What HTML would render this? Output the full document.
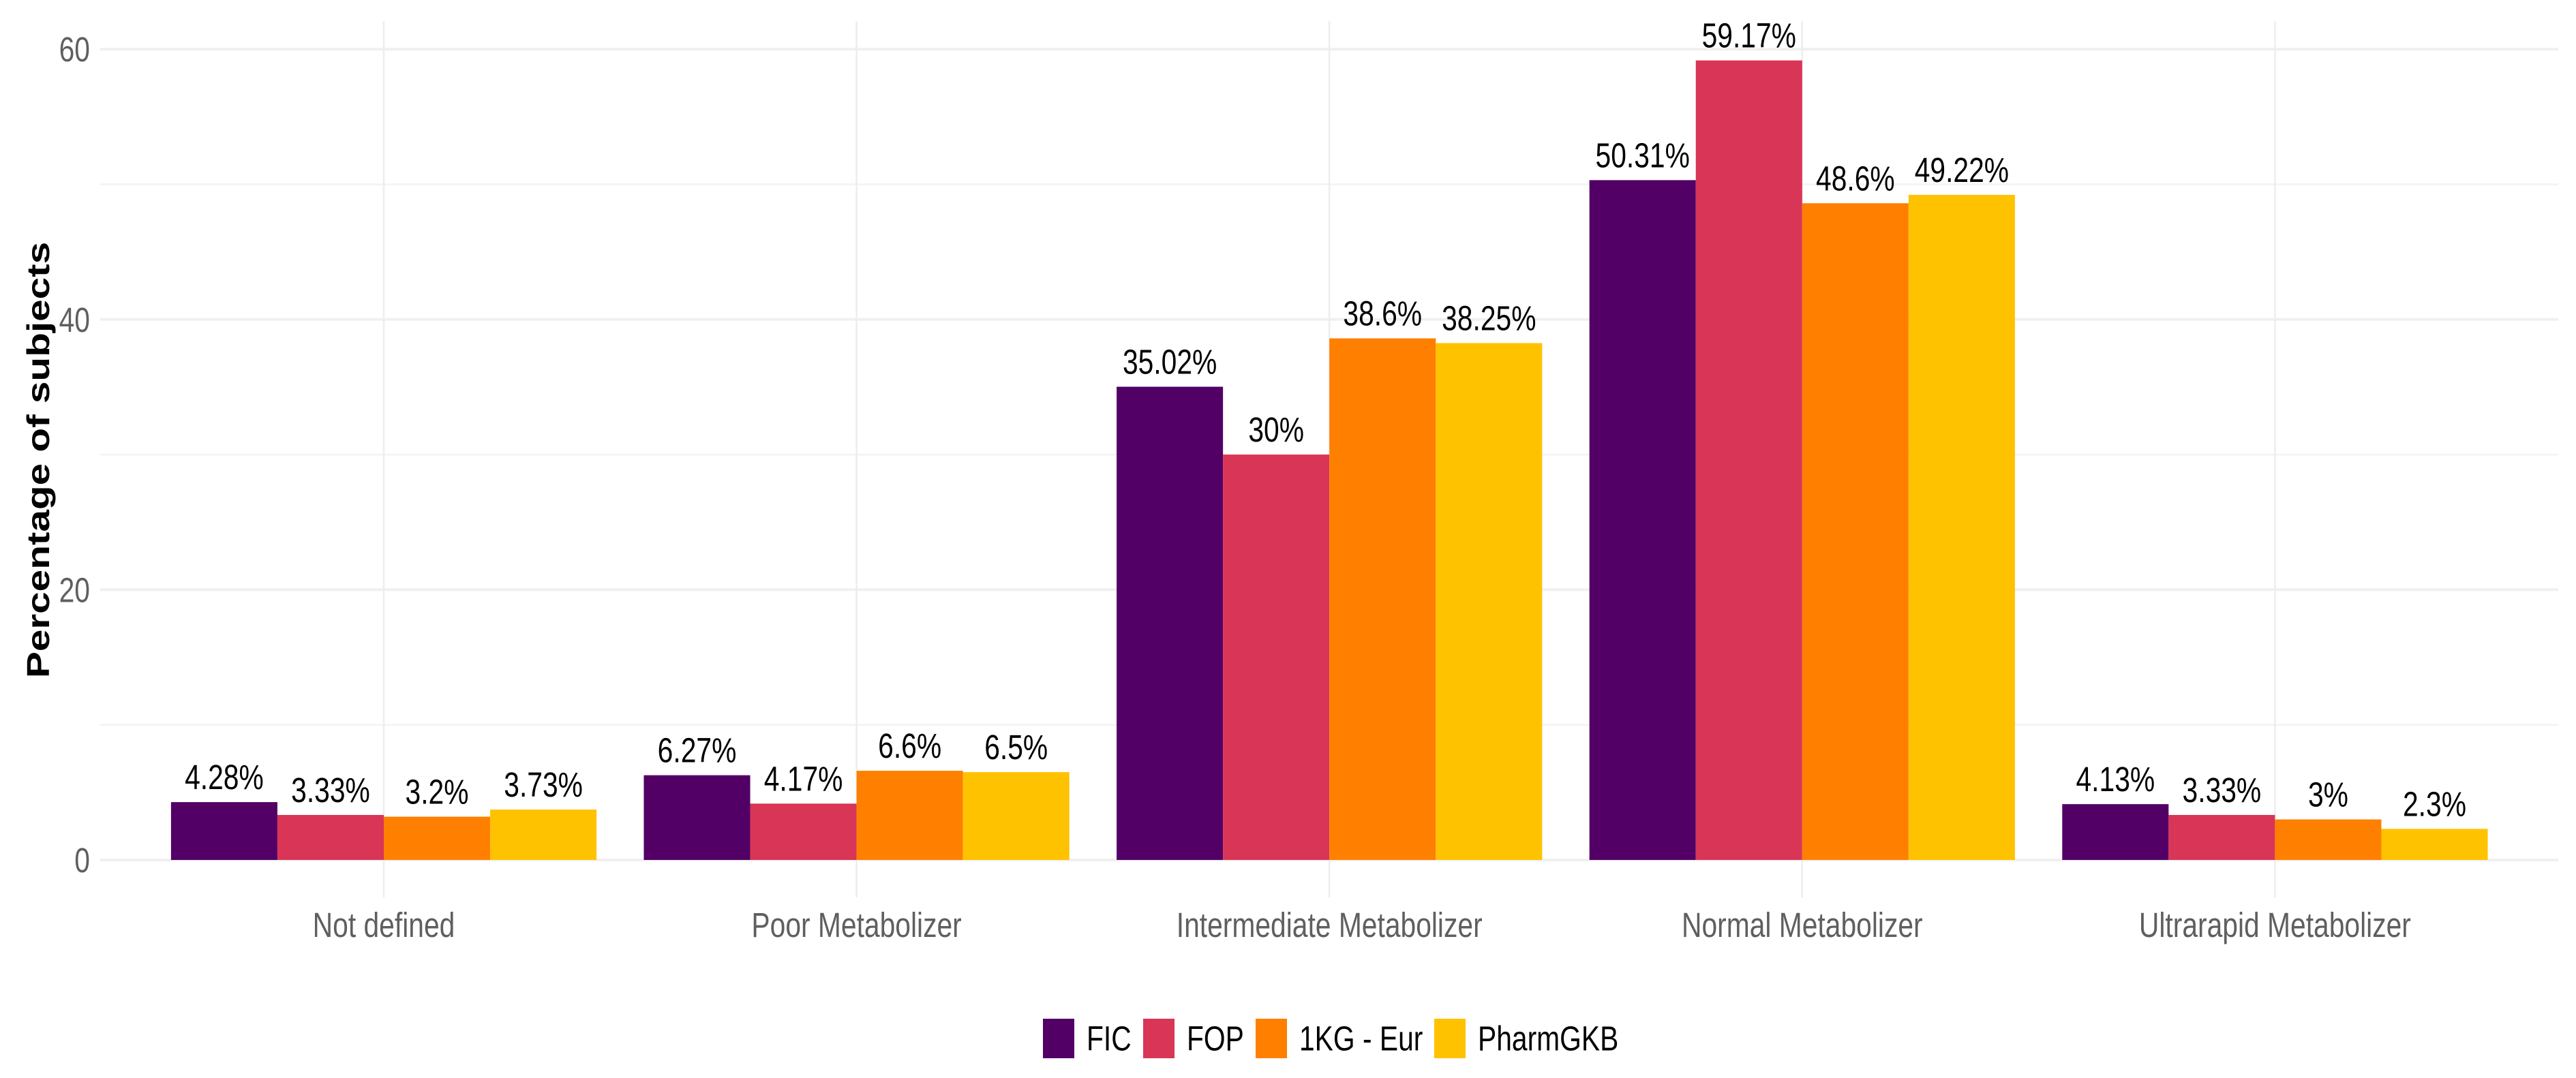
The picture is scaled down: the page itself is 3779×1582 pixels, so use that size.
<!DOCTYPE html>
<html lang="en">
<head>
<meta charset="utf-8">
<title>Metabolizer phenotype percentages</title>
<style>
  html, body { margin: 0; padding: 0; background: #fff; }
  svg { display: block; font-family: "Liberation Sans", Arial, sans-serif; }
</style>
</head>
<body>
<svg id="chart" xmlns="http://www.w3.org/2000/svg" width="3779" height="1582" viewBox="0 0 3779 1582">
  <rect x="0" y="0" width="3779" height="1582" fill="#ffffff"/>
  <g id="grid"></g>
  <g id="bars"></g>
  <g id="values"></g>
  <g id="yticks"></g>
  <g id="xticks"></g>
  <text transform="translate(72,675) scale(0.785,1) rotate(-90)" text-anchor="middle" font-size="58.5" font-weight="700" fill="#000000">Percentage of subjects</text>
  <g id="legend"></g>
</svg>
<script>
const categories = ["Not defined", "Poor Metabolizer", "Intermediate Metabolizer", "Normal Metabolizer", "Ultrarapid Metabolizer"];
const seriesNames = ["FIC", "FOP", "1KG - Eur", "PharmGKB"];
const seriesColors = ["#520066", "#d93556", "#ff7f00", "#ffc200"];
const ficValues = [4.28, 6.27, 35.02, 50.31, 4.13];
const fopValues = [3.33, 4.17, 30, 59.17, 3.33];
const kgEurValues = [3.2, 6.6, 38.6, 48.6, 3];
const pharmGkbValues = [3.73, 6.5, 38.25, 49.22, 2.3];
const majorTicks = [0, 20, 40, 60];
const minorTicks = [10, 30, 50];

const seriesValues = [ficValues, fopValues, kgEurValues, pharmGkbValues];
const NS = "http://www.w3.org/2000/svg";

// panel geometry
const panelLeft = 147, panelRight = 3753, panelTop = 31, panelBottom = 1317;
const yZero = 1262, yPerUnit = 19.83;
const firstCenter = 563, catStep = 693.6, barWidth = catStep * 0.9 / 4;
const squeeze = 0.8;

function yScale(v) { return yZero - v * yPerUnit; }
function xCenter(i) { return firstCenter + i * catStep; }
function xBar(i, s) { return xCenter(i) - 2 * barWidth + s * barWidth; }

function make(tag, attrs, parent) {
  const el = document.createElementNS(NS, tag);
  for (const k in attrs) el.setAttribute(k, attrs[k]);
  parent.appendChild(el);
  return el;
}
function squeezed(x, y) { return "translate(" + x + "," + y + ") scale(" + squeeze + ",1)"; }

const gridG = document.getElementById("grid");
minorTicks.forEach(function (t) {
  const el = make("line", { x1: panelLeft, x2: panelRight, y1: yScale(t), y2: yScale(t), stroke: "#f3f3f3", "stroke-width": 2.5 }, gridG);
  
  
});
majorTicks.forEach(function (t) {
  const el = make("line", { x1: panelLeft, x2: panelRight, y1: yScale(t), y2: yScale(t), stroke: "#f0f0f0", "stroke-width": 4 }, gridG);
  
  
});
categories.forEach(function (c, i) {
  const el = make("line", { x1: xCenter(i), x2: xCenter(i), y1: panelTop, y2: panelBottom, stroke: "#ededed", "stroke-width": 2.5 }, gridG);
  
  
});

const barsG = document.getElementById("bars");
const valuesG = document.getElementById("values");
seriesValues.forEach(function (vals, s) {
  vals.forEach(function (v, i) {
    const bar = make("rect", { x: xBar(i, s), y: yScale(v), width: barWidth, height: yScale(0) - yScale(v), fill: seriesColors[s] }, barsG);
    
    
    const lab = make("text", { transform: squeezed(xBar(i, s) + barWidth / 2, yScale(v) - 19), "text-anchor": "middle", "font-size": 51, fill: "#000000" }, valuesG);
    
    
    lab.textContent = v + "%";
  });
});

const yG = document.getElementById("yticks");
majorTicks.forEach(function (t) {
  const el = make("text", { transform: squeezed(132, yScale(t) + 18), "text-anchor": "end", "font-size": 51, fill: "#5f5f5f" }, yG);
  
  
  el.textContent = t;
});

const xG = document.getElementById("xticks");
categories.forEach(function (c, i) {
  const el = make("text", { transform: squeezed(xCenter(i), 1375), "text-anchor": "middle", "font-size": 51, fill: "#5f5f5f" }, xG);
  
  
  el.textContent = c;
});

const legendG = document.getElementById("legend");
const legendKeyLeft = [1530, 1677, 1842, 2104];
seriesNames.forEach(function (n, s) {
  const key = make("rect", { x: legendKeyLeft[s], y: 1495, width: 46, height: 58, fill: seriesColors[s] }, legendG);
  
  
  const lab = make("text", { transform: squeezed(legendKeyLeft[s] + 64, 1541.5), "font-size": 51, fill: "#000000" }, legendG);
  
  
  lab.textContent = n;
});
</script>
</body>
</html>
